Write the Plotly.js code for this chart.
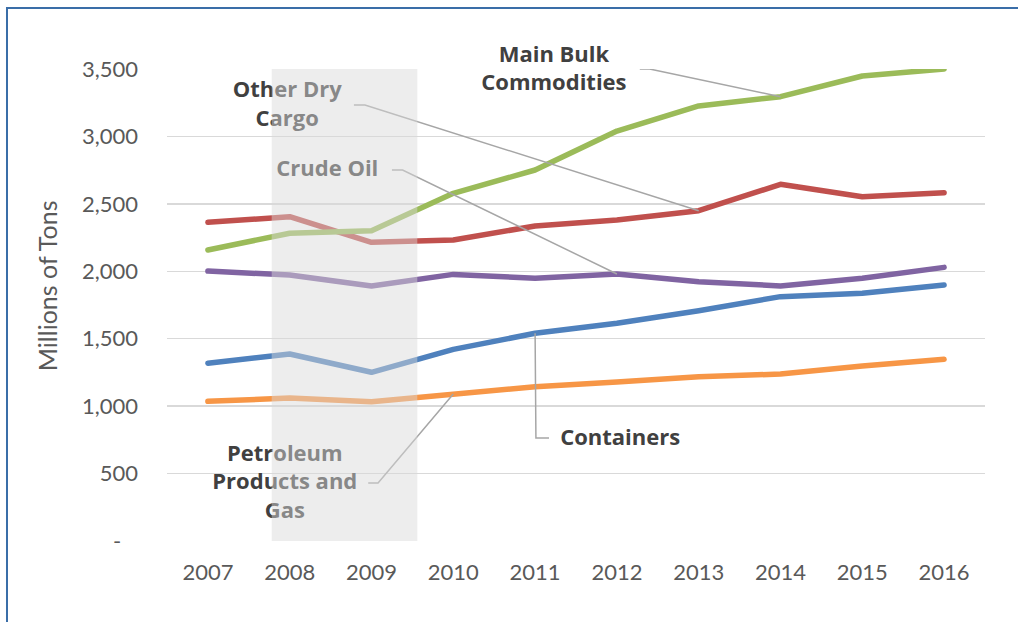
<!DOCTYPE html>
<html>
<head>
<meta charset="utf-8">
<script src="https://cdn.plot.ly/plotly-3.0.1.min.js"></script>
<style>
  html, body { margin: 0; padding: 0; background: #fff; }
  #chart { width: 1018px; height: 622px; }
  /* Excel-style round line ends */
  .scatterlayer .js-line { stroke-linecap: round; stroke-linejoin: round; }
</style>
</head>
<body>
<div id="chart"></div>
<script>
/* ── Data (millions of tons) ─────────────────────────────── */
const years = [2007, 2008, 2009, 2010, 2011, 2012, 2013, 2014, 2015, 2016];

const mainBulk      = [2158, 2282, 2301, 2578, 2751, 3040, 3226, 3295, 3448, 3500];
const otherDryCargo = [2363, 2405, 2215, 2232, 2336, 2380, 2449, 2645, 2553, 2583];
const crudeOil      = [2002, 1972, 1891, 1977, 1948, 1980, 1923, 1891, 1948, 2029];
const containers    = [1318, 1387, 1251, 1421, 1540, 1614, 1708, 1812, 1837, 1898];
const petroleum     = [1036, 1060, 1033, 1090, 1144, 1179, 1218, 1238, 1298, 1347];

const yTickVals = [0, 500, 1000, 1500, 2000, 2500, 3000, 3500];
const yTickText = ['-\u00a0\u00a0\u00a0', '500', '1,000', '1,500', '2,000', '2,500', '3,000', '3,500'];

// recession band (2008-2009)
const shadeFrom = 2007.78;
const shadeTo   = 2009.56;

/* ── Styles ──────────────────────────────────────────────── */
const FONT = 'Lato, "Open Sans", sans-serif';
const LABEL_FONT = '"Open Sans", Lato, sans-serif';
const TICK_COLOR = '#595959';
const LABEL_COLOR = '#404040';
const LEADER = { color: '#a6a6a6', width: 1.5 };

function lineTrace(y, color) {
  return {
    x: years, y: y,
    type: 'scatter', mode: 'lines',
    line: { color: color, width: 5.5 },
    hoverinfo: 'skip', showlegend: false,
  };
}

// series labels: text drawn under the band so it fades like the reference
const labels = {
  x: [2011.23, 2007.97, 2008.46, 2012.04, 2007.94],
  y: [3490, 3225, 2751, 749, 423],
  text: ['Main Bulk<br>Commodities', 'Other Dry<br>Cargo', 'Crude Oil', 'Containers', 'Petroleum<br>Products and<br>Gas'],
};

const traces = [
  lineTrace(petroleum, '#f79646'),
  lineTrace(containers, '#4f81bd'),
  lineTrace(crudeOil, '#8064a2'),
  lineTrace(otherDryCargo, '#c0504d'),
  lineTrace(mainBulk, '#9bbb59'),
  {
    x: labels.x, y: labels.y, text: labels.text,
    type: 'scatter', mode: 'text',
    textposition: 'middle center',
    textfont: { family: LABEL_FONT, size: 22, color: LABEL_COLOR, weight: 700 },
    cliponaxis: false, hoverinfo: 'skip', showlegend: false,
  },
];

// leader line: short horizontal stub near the label, then to the data point
function leader(pts) {
  const d = pts.map((p, i) => (i ? 'L' : 'M') + p[0] + ',' + p[1]).join(' ');
  return { type: 'path', xref: 'x', yref: 'y', path: d, line: LEADER, layer: 'above' };
}

const shapes = [
  leader([[2012.28, 3500], [2012.40, 3500], [years[7], mainBulk[7]]]),
  leader([[2008.785, 3233], [2008.92, 3233], [years[6], otherDryCargo[6]]]),
  leader([[2009.25, 2751], [2009.38, 2751], [years[5], crudeOil[5]]]),
  leader([[years[4], containers[4]], [2011.01, 764], [2011.17, 764]]),
  leader([[2008.96, 430], [2009.08, 430], [years[3], petroleum[3]]]),
  {
    type: 'rect', xref: 'x', yref: 'y',
    x0: shadeFrom, x1: shadeTo, y0: 0, y1: 3500,
    fillcolor: '#d8d8d8', opacity: 0.47, line: { width: 0 }, layer: 'above',
  },
  // outer frame (only top and left edges visible)
  {
    type: 'rect', xref: 'paper', yref: 'paper',
    x0: -0.1956, x1: 1.08, y0: -0.25, y1: 1.1292,
    line: { color: '#3a6ea8', width: 2 }, fillcolor: 'rgba(0,0,0,0)', layer: 'above',
  },
];

const layout = {
  width: 1018, height: 622,
  paper_bgcolor: '#fff', plot_bgcolor: '#fff',
  margin: { l: 167, r: 33, t: 69, b: 81 },
  font: { family: FONT, color: TICK_COLOR },
  showlegend: false,
  xaxis: {
    type: 'linear',
    range: [2006.5, 2016.5],
    tickvals: years,
    ticktext: years.map(String),
    tickfont: { family: FONT, size: 22, color: TICK_COLOR },
    showgrid: false, zeroline: false, showline: false,
    ticks: '', ticklabelstandoff: 16,
    fixedrange: true,
  },
  yaxis: {
    range: [0, 3500],
    tickvals: yTickVals,
    ticktext: yTickText,
    tickfont: { family: FONT, size: 22, color: TICK_COLOR },
    gridcolor: '#d9d9d9', gridwidth: 1.5,
    zeroline: false, showline: false,
    ticks: '', ticklabelstandoff: 28,
    fixedrange: true,
  },
  // axis title placed as an annotation: the reference sits a little above centre
  annotations: [{
    text: 'Millions of Tons', textangle: -90,
    xref: 'paper', yref: 'paper', x: -0.1467, y: 0.542,
    xanchor: 'center', yanchor: 'middle', showarrow: false,
    font: { family: FONT, size: 25, color: TICK_COLOR },
  }],
  shapes: shapes,
};

Plotly.newPlot('chart', traces, layout, { displayModeBar: false, staticPlot: true });
</script>
</body>
</html>
